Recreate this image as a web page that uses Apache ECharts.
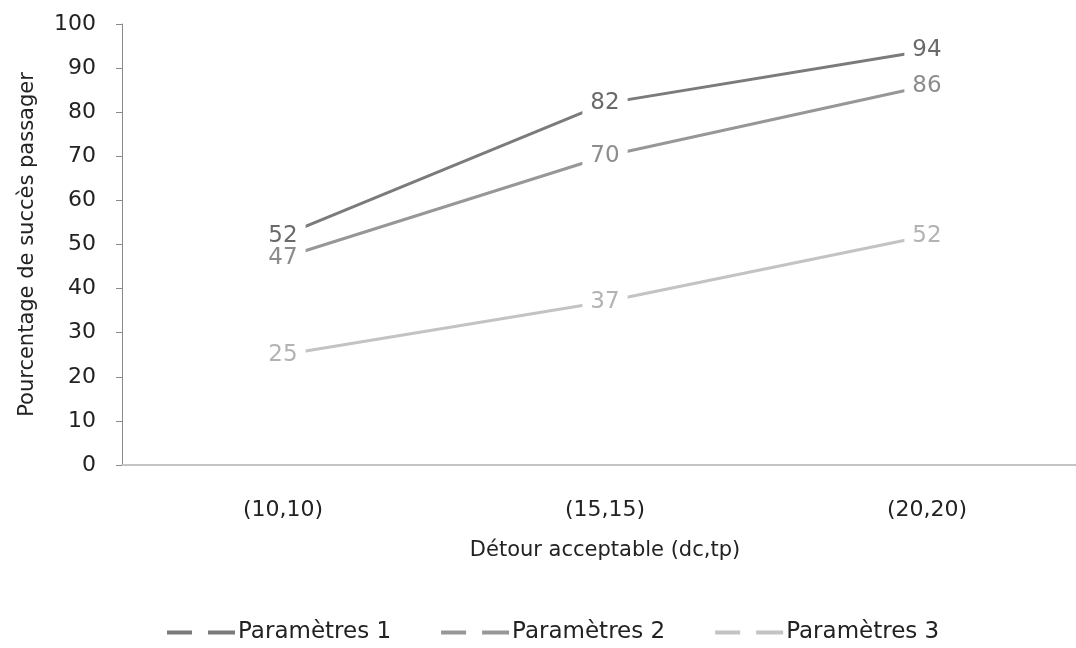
<!DOCTYPE html>
<html><head><meta charset="utf-8">
<script src="https://cdn.jsdelivr.net/npm/echarts@6/dist/echarts.min.js"></script>
<style>html,body{margin:0;padding:0;background:#fff;overflow:hidden}#c{width:1088px;height:648px}</style>
</head><body><div id="c"></div>
<script>
const categories = ['(10,10)', '(15,15)', '(20,20)'];
const seriesNames = ['Paramètres 1', 'Paramètres 2', 'Paramètres 3'];
const params1 = [52, 82, 94];
const params2 = [47, 70, 86];
const params3 = [25, 37, 52];
const lineColors = ['#7b7b7b', '#979797', '#c3c3c3'];
const labelColors = ['#6a6a6a', '#8c8c8c', '#b3b3b3'];
const FONT = 'DejaVu Sans';

const chart = echarts.init(document.getElementById('c'), null, {renderer: 'canvas'});
function mk(name, data, i) {
  return {
    name: name, type: 'line', data: data,
    symbol: 'circle', symbolSize: 0,
    lineStyle: {color: lineColors[i], width: 3},
    itemStyle: {color: lineColors[i]},
    label: {show: true, position: 'inside', color: labelColors[i], fontFamily: FONT, fontSize: 23,
            backgroundColor: '#fff', padding: [0, 8]},
    emphasis: {disabled: true}, animation: false
  };
}
chart.setOption({
  animation: false,
  grid: {left: 122, right: 0, top: 24, bottom: 183},
  legend: {
    top: 621, left: 167, padding: 0, itemWidth: 68, itemHeight: 4, itemGap: 50,
    icon: 'path://M0,0H25V4H0Z M41,0H68V4H41Z',
    textStyle: {fontFamily: FONT, fontSize: 23, color: '#222', padding: [0, 0, 0, -2]},
    data: seriesNames
  },
  xAxis: {
    type: 'category', data: categories, boundaryGap: true,
    axisLine: {lineStyle: {color: '#c4c4c4', width: 2}},
    axisTick: {show: false},
    axisLabel: {fontFamily: FONT, fontSize: 22, color: '#222', margin: 34},
    name: 'Détour acceptable (dc,tp)', nameLocation: 'middle', nameGap: 75,
    nameTextStyle: {fontFamily: FONT, fontSize: 21, color: '#222'}
  },
  yAxis: {
    type: 'value', min: 0, max: 100, interval: 10,
    axisLine: {show: true, lineStyle: {color: '#8a8a8a', width: 1}},
    axisTick: {show: true, length: 6, lineStyle: {color: '#8a8a8a'}},
    splitLine: {show: false},
    axisLabel: {fontFamily: FONT, fontSize: 22, color: '#222', margin: 26},
    name: 'Pourcentage de succès passager', nameLocation: 'middle', nameGap: 84,
    nameTextStyle: {fontFamily: FONT, fontSize: 21, color: '#222'}
  },
  series: [mk(seriesNames[0], params1, 0), mk(seriesNames[1], params2, 1), mk(seriesNames[2], params3, 2)]
});
</script></body></html>
